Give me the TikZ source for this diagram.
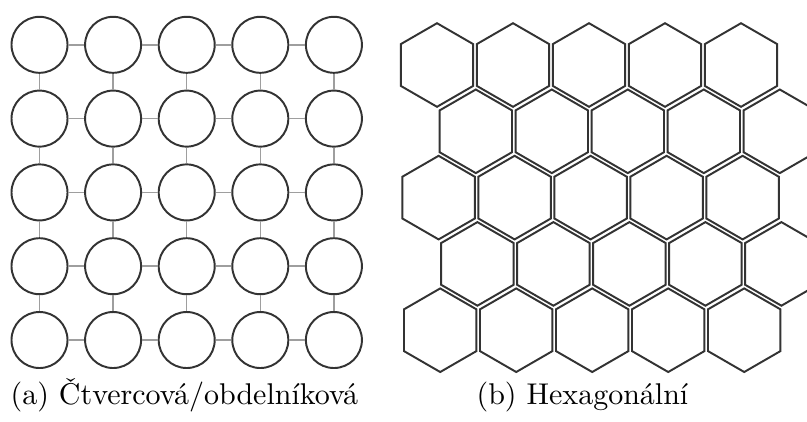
\documentclass[tikz,border=0pt]{standalone}
\usepackage{fontspec}
\begin{document}
\begin{tikzpicture}[x=0.33333pt,y=-0.33333pt,
  circ/.style={circle,draw=black!80,line width=0.65pt,minimum size=18.67pt,inner sep=0pt},
  conn/.style={draw=black!38,line width=0.5pt},
  hexline/.style={draw=black!80,line width=0.65pt,line join=miter},
  captext/.style={font=\normalsize,inner sep=0pt}]
\useasboundingbox (0,0) rectangle (807,421);
% square grid of circles
\foreach \i in {0,...,4}{
  \foreach \j in {0,...,4}{
    \node[circ] (c-\i-\j) at ({39.5+73.6*\i},{44.8+73.8*\j}) {};
  }
}
\foreach \i in {0,...,4}{
  \foreach \j [evaluate=\j as \jn using int(\j+1)] in {0,...,3}{
    \draw[conn] (c-\i-\j) -- (c-\i-\jn);
    \draw[conn] (c-\j-\i) -- (c-\jn-\i);
  }
}
% hexagonal grid
\begin{scope}
\clip (0,0) rectangle (807,421);
\foreach \r in {0,...,4}{
  \foreach \c in {0,...,4}{
    \pgfmathsetmacro\hx{437+0.8*\r+38*mod(\r,2)+76*\c}
    \pgfmathsetmacro\hy{65+66.3*\r}
    \draw[hexline] (\hx,\hy) +(90:41.8) -- +(30:41.8) -- +(-30:41.8) -- +(-90:41.8) -- +(-150:41.8) -- +(150:41.8) -- cycle;
  }
}
\end{scope}
% captions
\node[captext,anchor=base west] (capa) at (10,404) {(a) Čtvercová/obdelníková};
\node[captext,anchor=base west] (capb) at (476,404) {(b) Hexagonální};
\end{tikzpicture}
\end{document}
